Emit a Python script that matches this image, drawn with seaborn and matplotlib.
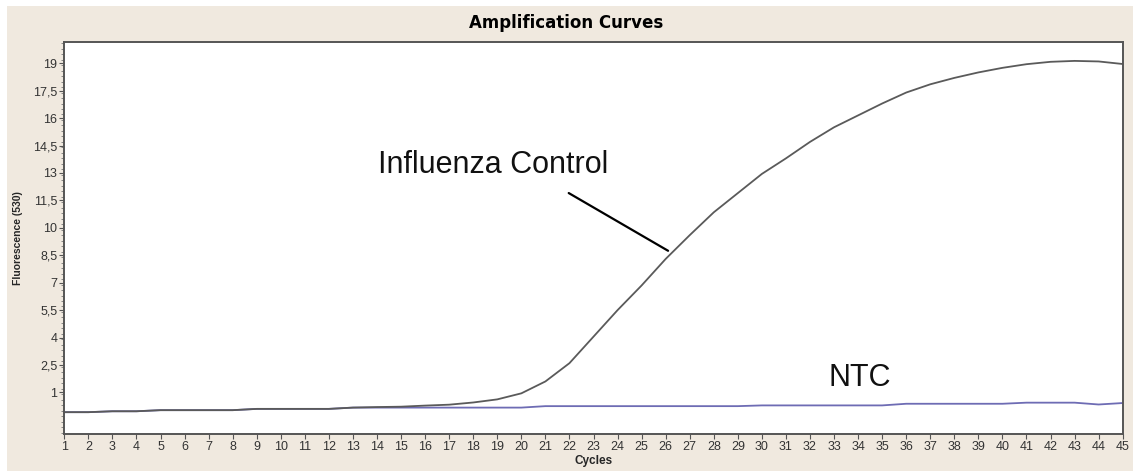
#!/usr/bin/env python3
import numpy as np
import pandas as pd
import seaborn as sns
import matplotlib.pyplot as plt
from matplotlib.patches import Rectangle
from matplotlib.ticker import FixedLocator, MultipleLocator

cycles = list(range(1, 46))
influenza = [-0.08, -0.08, -0.03, -0.03, 0.03, 0.03, 0.03, 0.03, 0.1, 0.1,
             0.1, 0.1, 0.17, 0.2, 0.22, 0.28, 0.33, 0.45, 0.62, 0.95,
             1.6, 2.6, 4.05, 5.5, 6.85, 8.3, 9.6, 10.85, 11.9, 12.95,
             13.8, 14.7, 15.5, 16.15, 16.8, 17.4, 17.85, 18.2, 18.5, 18.75,
             18.95, 19.08, 19.13, 19.1, 18.96]
ntc = [-0.08, -0.08, -0.03, -0.03, 0.03, 0.03, 0.03, 0.03, 0.1, 0.1,
       0.1, 0.1, 0.17, 0.17, 0.17, 0.17, 0.17, 0.17, 0.17, 0.17,
       0.25, 0.25, 0.25, 0.25, 0.25, 0.25, 0.25, 0.25, 0.25, 0.29,
       0.29, 0.29, 0.29, 0.29, 0.29, 0.38, 0.38, 0.38, 0.38, 0.38,
       0.44, 0.44, 0.44, 0.34, 0.42]
y_ticks = [1, 2.5, 4, 5.5, 7, 8.5, 10, 11.5, 13, 14.5, 16, 17.5, 19]
y_tick_labels = [("%g" % v).replace(".", ",") for v in y_ticks]

df = pd.DataFrame({
    "Cycles": cycles * 2,
    "Fluorescence": ntc + influenza,
    "Sample": ["NTC"] * len(cycles) + ["Influenza Control"] * len(cycles),
})

sns.set_theme(style="white")
plt.rcParams["font.family"] = ["Liberation Sans", "DejaVu Sans"]

fig = plt.figure(figsize=(11.4, 4.75), dpi=100, facecolor="white")
bg = Rectangle((7 / 1140, 1 - 471 / 475), 1126 / 1140, 465 / 475,
               transform=fig.transFigure, facecolor="#f0e9df",
               edgecolor="none", zorder=-10)
fig.patches.append(bg)
ax = fig.add_axes([64.3 / 1140, 1 - 434.3 / 475, (1122.7 - 64.3) / 1140, (434.3 - 41.7) / 475])
ax.set_zorder(1)
ax.set_facecolor("white")

sns.lineplot(data=df, x="Cycles", y="Fluorescence", hue="Sample",
             palette={"NTC": "#6e6cb4", "Influenza Control": "#5a5a5a"},
             linewidth=1.3, legend=False, ax=ax)

ax.set_xlim(1, 45)
ax.set_ylim(-1.29, 20.18)
ax.xaxis.set_major_locator(FixedLocator(cycles))
ax.set_xticklabels([str(c) for c in cycles])
ax.yaxis.set_major_locator(FixedLocator(y_ticks))
ax.set_yticklabels(y_tick_labels)
ax.yaxis.set_minor_locator(MultipleLocator(0.3))
ax.tick_params(axis="both", which="major", direction="out", length=3.5, width=0.8,
               color="#555555", labelsize=9, labelcolor="#333333", pad=1.5)
ax.tick_params(axis="y", which="minor", direction="out", length=2, width=0.6,
               color="#777777", left=True)
ax.tick_params(axis="x", bottom=True)
ax.tick_params(axis="y", left=True)
for s in ax.spines.values():
    s.set_color("#555555")
    s.set_linewidth(1.4)

ax.set_xlabel("Cycles", fontsize=8.5, fontweight="bold", labelpad=1)
ax.set_ylabel("Fluorescence (530)", fontsize=7.5, fontweight="bold", labelpad=7)
fig.text(0.497, 1 - 23 / 475, "Amplification Curves", ha="center", va="center",
         fontsize=12, fontweight="heavy", family="DejaVu Sans", color="black")

ax.annotate("", xy=(26.2, 8.67), xytext=(21.87, 11.98),
            arrowprops=dict(arrowstyle="-", color="black", linewidth=1.6))
ax.text(14.04, 12.98, "Influenza Control", fontsize=22, color="#111111",
        ha="left", va="baseline")
ax.text(32.78, 1.36, "NTC", fontsize=22, color="#111111", ha="left", va="baseline")

fig.savefig("out.png", dpi=100, facecolor=fig.get_facecolor())
